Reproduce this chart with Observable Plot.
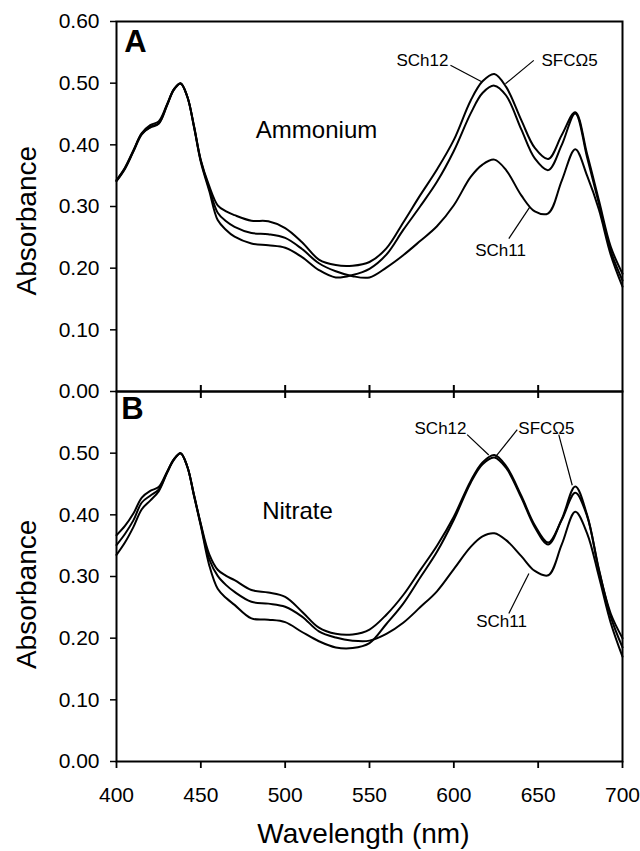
<!DOCTYPE html>
<html><head><meta charset="utf-8">
<script src="https://cdn.jsdelivr.net/npm/d3@7"></script>
<script src="https://cdn.jsdelivr.net/npm/@observablehq/plot@0.6"></script>
<style>
html,body{margin:0;padding:0;background:#fff;}
#wrap{position:relative;width:640px;height:851px;overflow:hidden;background:#fff;}
#pa{position:absolute;left:0;top:0;z-index:2;}
#pb{position:absolute;left:0;top:391px;z-index:1;}
</style></head>
<body><div id="wrap"><div id="pa"></div><div id="pb"></div></div>
<script>
// ---- data ----
const wavelengths = [400,405,410,415,420,425,430,434,438,442,446,450,455,460,465,470,480,490,500,510,520,530,540,550,560,570,580,590,600,610,617,624,631,640,648,656,664,672,679,686,693,700];
const seriesNames = ["SCh12", "SFCΩ5", "SCh11"];

const ammoniumSCh12 = [0.343,0.363,0.391,0.419,0.432,0.438,0.466,0.490,0.500,0.478,0.430,0.375,0.333,0.302,0.292,0.286,0.277,0.276,0.265,0.242,0.214,0.205,0.204,0.210,0.232,0.274,0.318,0.360,0.408,0.472,0.503,0.515,0.494,0.440,0.395,0.377,0.416,0.453,0.385,0.310,0.235,0.191];
const ammoniumSFC5  = [0.341,0.361,0.389,0.417,0.429,0.435,0.465,0.490,0.500,0.478,0.428,0.372,0.325,0.278,0.262,0.251,0.240,0.237,0.233,0.218,0.197,0.185,0.189,0.199,0.222,0.262,0.300,0.340,0.390,0.451,0.484,0.496,0.480,0.425,0.378,0.359,0.400,0.451,0.380,0.305,0.228,0.180];
const ammoniumSCh11 = [0.342,0.362,0.390,0.418,0.428,0.434,0.464,0.489,0.499,0.478,0.429,0.374,0.329,0.290,0.276,0.267,0.257,0.255,0.249,0.231,0.208,0.195,0.187,0.185,0.201,0.221,0.244,0.268,0.302,0.348,0.368,0.376,0.359,0.318,0.292,0.289,0.342,0.393,0.350,0.295,0.222,0.170];

const nitrateSCh12 = [0.367,0.382,0.402,0.428,0.439,0.445,0.470,0.490,0.500,0.478,0.432,0.385,0.336,0.311,0.301,0.294,0.278,0.274,0.267,0.243,0.217,0.207,0.206,0.214,0.238,0.270,0.310,0.350,0.397,0.455,0.485,0.497,0.479,0.431,0.383,0.355,0.392,0.436,0.398,0.310,0.240,0.200];
const nitrateSFC5  = [0.335,0.355,0.380,0.409,0.423,0.438,0.468,0.489,0.500,0.478,0.430,0.382,0.318,0.280,0.265,0.254,0.232,0.230,0.226,0.210,0.195,0.185,0.184,0.192,0.223,0.256,0.298,0.340,0.392,0.452,0.482,0.493,0.476,0.428,0.380,0.352,0.393,0.446,0.400,0.312,0.235,0.185];
const nitrateSCh11 = [0.351,0.369,0.391,0.420,0.431,0.441,0.469,0.490,0.500,0.478,0.431,0.384,0.328,0.301,0.286,0.275,0.259,0.256,0.251,0.235,0.211,0.201,0.196,0.196,0.207,0.225,0.250,0.276,0.312,0.348,0.365,0.370,0.359,0.333,0.309,0.302,0.352,0.405,0.370,0.300,0.225,0.170];

const yTicksA = [0, 0.1, 0.2, 0.3, 0.4, 0.5, 0.6];
const yTicksB = [0, 0.1, 0.2, 0.3, 0.4, 0.5];
const xTicks = [400, 450, 500, 550, 600, 650, 700];
const xInnerTicks = [450, 500, 550, 600, 650];

// annotations (data units)
const labelsA = [
  {text: "SCh12", x: 581.4, y: 0.537},
  {text: "SFCΩ5", x: 668.6, y: 0.537},
  {text: "SCh11", x: 627.7, y: 0.229}
];
const leadersA = [
  {x1: 598, y1: 0.529, x2: 616.8, y2: 0.502},
  {x1: 647.4, y1: 0.537, x2: 630.6, y2: 0.499},
  {x1: 632.6, y1: 0.248, x2: 645, y2: 0.299}
];
const labelsB = [
  {text: "SCh12", x: 592.1, y: 0.5395},
  {text: "SFCΩ5", x: 654.9, y: 0.5395},
  {text: "SCh11", x: 628.3, y: 0.227}
];
const leadersB = [
  {x1: 607.9, y1: 0.530, x2: 620.7, y2: 0.497},
  {x1: 637.6, y1: 0.538, x2: 624.7, y2: 0.494},
  {x1: 662.2, y1: 0.530, x2: 670.2, y2: 0.448},
  {x1: 632.6, y1: 0.240, x2: 644.5, y2: 0.305}
];
const panelA = {letter: "A", lx: 411.3, ly: 0.566, cond: "Ammonium", cx: 518.6, cy: 0.423, ay: 0.277};
const panelB = {letter: "B", lx: 409.5, ly: 0.572, cond: "Nitrate", cx: 507.3, cy: 0.406, ay: 0.271};
const xTitle = {text: "Wavelength (nm)", x: 546.4, y: -0.1316};
const yTitle = "Absorbance";
const yTitleX = 347.2;

function table(cols) {
  const rows = [];
  seriesNames.forEach((s, k) => {
    cols[k].forEach((v, i) => rows.push({series: s, wl: wavelengths[i], abs: v}));
  });
  return rows;
}
const dataA = table([ammoniumSCh12, ammoniumSFC5, ammoniumSCh11]);
const dataB = table([nitrateSCh12, nitrateSFC5, nitrateSCh11]);

const FONT = "Liberation Sans, Arial, Helvetica, sans-serif";
const baseStyle = {fontFamily: FONT, fontSize: "21px", background: "none", overflow: "visible", color: "black"};

function panel(data, labels, leaders, p, yTicks, isBottom) {
  const marks = [
    Plot.frame({stroke: "black", strokeWidth: 2}),
    Plot.axisY({ticks: yTicks, tickFormat: d3.format(".2f"), tickSize: 6, tickPadding: 11, label: null, strokeWidth: 1.5, fontSize: 21}),
    Plot.line(data, {x: "wl", y: "abs", z: "series", curve: "catmull-rom", stroke: "black", strokeWidth: 2}),
    Plot.link(leaders, {x1: "x1", y1: "y1", x2: "x2", y2: "y2", stroke: "black", strokeWidth: 1.2}),
    Plot.text(labels, {x: "x", y: "y", text: "text", fontSize: 17, textAnchor: "middle"}),
    Plot.text([p], {x: "lx", y: "ly", text: "letter", fontSize: 31, fontWeight: "bold", textAnchor: "middle"}),
    Plot.text([p], {x: "cx", y: "cy", text: "cond", fontSize: 24, textAnchor: "middle"}),
    Plot.text([p], {x: () => yTitleX, y: "ay", text: () => yTitle, rotate: -90, fontSize: 28, textAnchor: "middle"})
  ];
  if (isBottom) {
    marks.push(Plot.axisX({ticks: xTicks, tickSize: 7, tickPadding: 19, label: null, strokeWidth: 1.8, fontSize: 21, tickFormat: d3.format("d")}));
    marks.push(Plot.text([xTitle], {x: "x", y: "y", text: "text", fontSize: 28, textAnchor: "middle", lineAnchor: "bottom"}));
  } else {
    // crossing ticks on the shared boundary between the two panels
    marks.push(Plot.axisX({anchor: "bottom", ticks: xInnerTicks, tickSize: 13, dy: -6, tickFormat: () => "", label: null, strokeWidth: 2, stroke: "black"}));
  }
  return marks;
}

const plotA = Plot.plot({
  width: 640, height: 400,
  marginLeft: 116, marginRight: 18, marginTop: 21, marginBottom: 9,
  x: {domain: [400, 700]},
  y: {domain: [0, 0.6]},
  style: baseStyle,
  marks: panel(dataA, labelsA, leadersA, panelA, yTicksA, false)
});
const plotB = Plot.plot({
  width: 640, height: 460,
  marginLeft: 116, marginRight: 18, marginTop: 0, marginBottom: 90,
  x: {domain: [400, 700]},
  y: {domain: [0, 0.6]},
  style: baseStyle,
  marks: panel(dataB, labelsB, leadersB, panelB, yTicksB, true)
});
document.getElementById("pa").appendChild(plotA);
document.getElementById("pb").appendChild(plotB);
</script>
</body></html>
